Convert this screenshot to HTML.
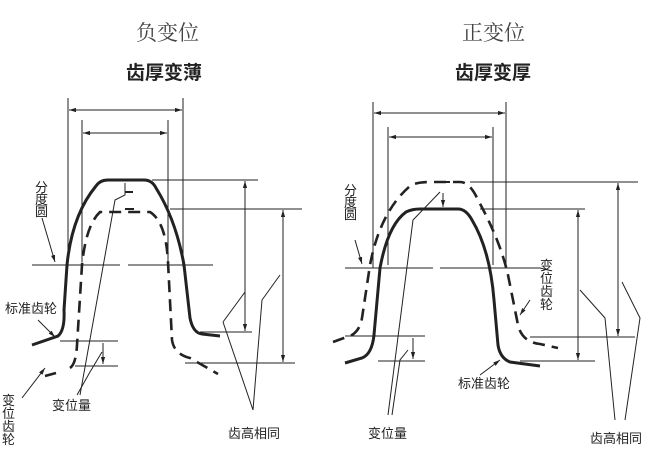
<!DOCTYPE html>
<html><head><meta charset="utf-8"><style>
body{margin:0;background:#fff}
svg{display:block}
.t{font-family:"Liberation Serif","Noto Serif CJK SC",serif;font-size:21px;fill:#444}
.s{font-family:"Liberation Sans","Noto Sans CJK SC",sans-serif;font-size:19px;font-weight:bold;fill:#222}
.l{font-family:"Liberation Sans","Noto Sans CJK SC",sans-serif;font-size:13px;fill:#222}
</style></head><body>
<svg width="664" height="457" viewBox="0 0 664 457" xmlns="http://www.w3.org/2000/svg">
<defs><marker id="a" viewBox="0 0 10 10" refX="10" refY="5" markerWidth="7" markerHeight="7" orient="auto-start-reverse"><path d="M0,2 L10,5 L0,8z" fill="#222"/></marker></defs>
<text class="t" x="136" y="40">负变位</text>
<text class="s" x="126" y="79">齿厚变薄</text>
<text class="t" x="462" y="40">正变位</text>
<text class="s" x="455" y="79">齿厚变厚</text>
<g stroke="#222" fill="none" stroke-width="1">
<!-- LEFT -->
<line x1="68" y1="98" x2="68" y2="267"/><line x1="183" y1="98" x2="183" y2="267"/>
<line x1="69" y1="110" x2="182" y2="110" marker-start="url(#a)" marker-end="url(#a)"/>
<line x1="82" y1="120" x2="82" y2="262"/><line x1="168" y1="120" x2="168" y2="262"/>
<line x1="83" y1="133" x2="167" y2="133" marker-start="url(#a)" marker-end="url(#a)"/>
<path d="M32,265 H120 M128,265 H213"/>
<path d="M152,180 H258 M170,209 H302 M200,332 H252 M185,363 H295"/>
<line x1="245" y1="181" x2="245" y2="331" marker-start="url(#a)" marker-end="url(#a)"/>
<line x1="283" y1="210" x2="283" y2="362" marker-start="url(#a)" marker-end="url(#a)"/>
<path d="M60,341 H118 M75,366 H118"/>
<line x1="103" y1="343" x2="103" y2="364" marker-end="url(#a)"/>
<path d="M125,183 V195 L115,200 L80,395"/>
<path d="M102,352 L90,372 L77,395"/>
<path d="M223,322 L245,292 M245,292 L245,300"/>
<path d="M280,275 L262,300 L253,410 M223,322 L253,410"/>
<path d="M42,218 L55,262" marker-end="url(#a)"/>
<path d="M38,320 L55,337" marker-end="url(#a)"/>
<path d="M22,398 L45,368" marker-end="url(#a)"/>
<path d="M32,345 L58,336 Q65,330 64,310 L67,265 Q72,215 96,186 Q100,180 108,180 H144 Q152,180 156,188 Q176,220 184,265 L190,318 Q193,333 202,334 L220,336" stroke-width="3"/>
<path d="M45,376 L56,373 M70,368 Q76,364 77,345 L82,265 Q86,225 100,212 H150 Q166,222 168,262 L172,340 Q174,354 190,358 L218,374" stroke-width="2.6" stroke-dasharray="12,7"/>
<path d="M125,192 H133 M125,209 H134" stroke-width="2"/>
<!-- RIGHT -->
<line x1="373" y1="102" x2="373" y2="268"/><line x1="506" y1="102" x2="506" y2="268"/>
<line x1="374" y1="113" x2="505" y2="113" marker-start="url(#a)" marker-end="url(#a)"/>
<line x1="388" y1="127" x2="388" y2="265"/><line x1="493" y1="127" x2="493" y2="265"/>
<line x1="389" y1="137" x2="492" y2="137" marker-start="url(#a)" marker-end="url(#a)"/>
<path d="M345,268 H433 M440,268 H540"/>
<path d="M470,182 H638 M480,209 H585 M530,337 H635 M520,361 H595"/>
<line x1="618" y1="183" x2="618" y2="336" marker-start="url(#a)" marker-end="url(#a)"/>
<line x1="578" y1="210" x2="578" y2="360" marker-start="url(#a)" marker-end="url(#a)"/>
<path d="M345,336 H425 M378,361 H425"/>
<line x1="413" y1="338" x2="413" y2="359" marker-end="url(#a)"/>
<line x1="443" y1="193" x2="443" y2="207" marker-end="url(#a)"/>
<path d="M440,192 L413,220 L388,415"/>
<path d="M408,350 L400,360 L392,415"/>
<path d="M580,290 L605,318 L615,420 M622,282 L640,318 L625,420"/>
<path d="M540,268 L548,270"/>
<path d="M530,300 L520,315" marker-end="url(#a)"/>
<path d="M480,375 L500,360" marker-end="url(#a)"/>
<path d="M355,240 L362,264" marker-end="url(#a)"/>
<path d="M345,363 L362,358 Q372,354 374,335 L380,268 Q388,225 406,212 Q412,209 420,209 H458 Q466,209 472,220 Q490,250 494,300 L498,345 Q500,358 510,362 L540,366" stroke-width="3"/>
<path d="M333,342 L352,335 Q360,330 362,318 L370,265 Q380,212 410,186 Q416,182 430,182 H460 Q470,182 478,200 Q500,240 508,275 L518,325 Q522,342 540,344 L558,348" stroke-width="2.6" stroke-dasharray="12,7"/>
<path d="M437,182 H450" stroke-width="2"/>
</g>
<text class="l" x="5" y="313">标准齿轮</text>
<text class="l" x="52" y="410">变位量</text>
<text class="l" x="228" y="438">齿高相同</text>
<g class="l" font-size="11"><text x="35" y="192">分</text><text x="35" y="204">度</text><text x="35" y="216">圆</text>
<text x="2" y="405">变</text><text x="2" y="418">位</text><text x="2" y="431">齿</text><text x="2" y="444">轮</text>
<text x="344" y="195">分</text><text x="344" y="207">度</text><text x="344" y="219">圆</text>
<text x="540" y="270">变</text><text x="540" y="283">位</text><text x="540" y="296">齿</text><text x="540" y="309">轮</text></g>
<text class="l" x="458" y="388">标准齿轮</text>
<text class="l" x="368" y="438">变位量</text>
<text class="l" x="590" y="443">齿高相同</text>
</svg>
</body></html>
